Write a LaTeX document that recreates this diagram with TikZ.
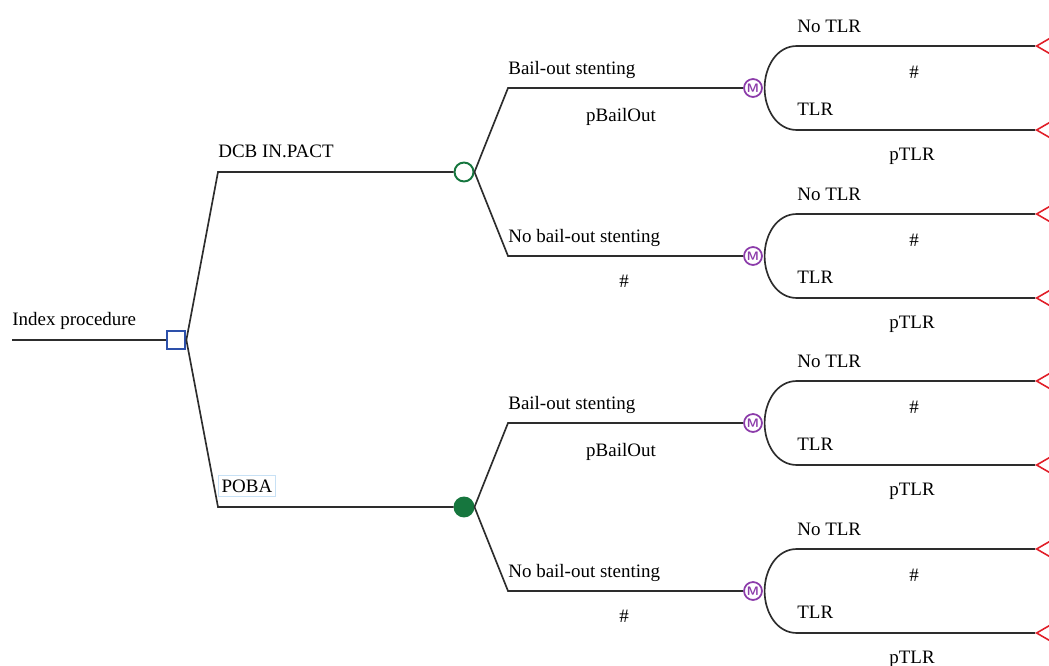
\documentclass[tikz,border=0pt]{standalone}
\usepackage{fontspec}
\setmainfont{Liberation Serif}
\usetikzlibrary{shapes.geometric,positioning}
\definecolor{edgegray}{RGB}{45,45,45}
\definecolor{decblue}{RGB}{45,80,170}
\definecolor{chancegreen}{RGB}{22,118,62}
\definecolor{markovpurple}{RGB}{140,60,170}
\definecolor{termred}{RGB}{225,30,40}
\definecolor{tagblue}{RGB}{200,225,245}
\tikzset{
  branch/.style={draw=edgegray, line width=0.95pt},
  decision node/.style={
    rectangle, draw=decblue, line width=1.2pt, fill=white,
    minimum size=10.6pt, inner sep=0pt
  },
  chance node/.style={
    circle, draw=chancegreen, line width=1.1pt, fill=white,
    minimum size=10.8pt, inner sep=0pt
  },
  chance filled/.style={chance node, fill=chancegreen},
  markov node/.style={
    circle, draw=markovpurple, line width=1pt, fill=white,
    minimum size=10.2pt, inner sep=0pt, text=markovpurple,
    font=\sffamily\bfseries\fontsize{7}{7}\selectfont
  },
  terminal node/.style={
    isosceles triangle, isosceles triangle apex angle=60,
    shape border rotate=180, draw=termred, line width=0.9pt,
    minimum height=16pt, inner sep=0pt, anchor=apex
  },
  branch label/.style={font=\fontsize{10.8}{13}\selectfont, inner sep=0pt, anchor=base west},
  prob label/.style={font=\fontsize{10.8}{13}\selectfont, inner sep=0pt, anchor=base}
}

\begin{document}
\begin{tikzpicture}[x=0.02cm, y=-0.02cm]
    \clip (0,0) rectangle (1049,666);
    % root decision
    \coordinate (start) at (12,340);
    \node[decision node] (index) at (176,340) {};
    \node[branch label] (indexlbl) at (12,325) {Index procedure};
    \draw[branch] (start) -- (index);
    % strategies
    \node[chance node] (dcb) at (464,172) {};
    \node[chance filled] (poba) at (464,507) {};
    \coordinate (dcbbend) at (218,172);
    \coordinate (pobabend) at (218,507);
    \draw[branch] (index.east) -- (dcbbend) -- (dcb);
    \draw[branch] (index.east) -- (pobabend) -- (poba);
    \node[branch label] (dcblbl) at (218,157) {DCB IN.PACT};
    \node[branch label, draw=tagblue, line width=0.5pt, inner xsep=1.8pt, inner ysep=2.4pt]
      (pobalbl) at (218,492) {POBA};
    % bail-out branches
    \coordinate (bail1) at (508,88);
    \coordinate (nobail1) at (508,256);
    \coordinate (bail2) at (508,423);
    \coordinate (nobail2) at (508,591);
    \node[markov node] (m1) at (753,88) {M};
    \node[markov node] (m2) at (753,256) {M};
    \node[markov node] (m3) at (753,423) {M};
    \node[markov node] (m4) at (753,591) {M};
    \draw[branch] (dcb.east) -- (bail1) -- (m1);
    \draw[branch] (dcb.east) -- (nobail1) -- (m2);
    \draw[branch] (poba.east) -- (bail2) -- (m3);
    \draw[branch] (poba.east) -- (nobail2) -- (m4);
    \node[branch label] (bail1lbl) at (508,74) {Bail-out stenting};
    \node[prob label] (bail1p) at (621,121) {pBailOut};
    \node[branch label] (nobail1lbl) at (508,242) {No bail-out stenting};
    \node[prob label] (nobail1p) at (624,287) {\#};
    \node[branch label] (bail2lbl) at (508,409) {Bail-out stenting};
    \node[prob label] (bail2p) at (621,456) {pBailOut};
    \node[branch label] (nobail2lbl) at (508,577) {No bail-out stenting};
    \node[prob label] (nobail2p) at (624,622) {\#};
    % markov states
    \foreach \k/\ym in {1/88, 2/256, 3/423, 4/591} {
      \node[terminal node] (notlr\k) at (1035,\ym-42) {};
      \node[terminal node] (tlr\k) at (1035,\ym+42) {};
      \coordinate (notlrbend\k) at (797,\ym-42);
      \coordinate (tlrbend\k) at (797,\ym+42);
      \draw[branch] ([xshift=1pt]m\k.east) to[out=90, in=180] (notlrbend\k) -- (notlr\k.apex);
      \draw[branch] ([xshift=1pt]m\k.east) to[out=-90, in=180] (tlrbend\k) -- (tlr\k.apex);
      \node[branch label] (notlrlbl\k) at (797,\ym-56) {No TLR};
      \node[prob label] (notlrp\k) at (914,\ym-10) {\#};
      \node[branch label] (tlrlbl\k) at (797,\ym+27) {TLR};
      \node[prob label] (tlrp\k) at (912,\ym+72) {pTLR};
    }
\end{tikzpicture}
\end{document}
